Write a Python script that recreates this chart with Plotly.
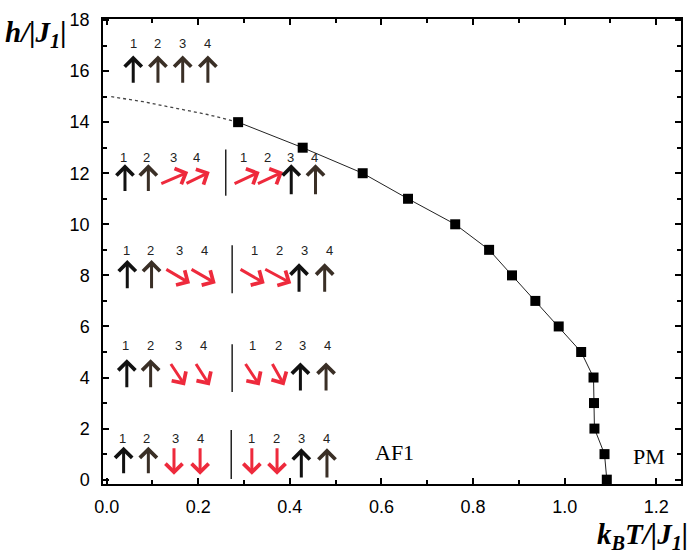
import plotly.graph_objects as go

# ---- data -------------------------------------------------------------
T_crit = [0.287, 0.428, 0.559, 0.658, 0.761, 0.835, 0.885, 0.936, 0.987,
          1.036, 1.063, 1.064, 1.065, 1.087, 1.092]
h_crit = [14, 13, 12, 11, 10, 9, 8, 7, 6, 5, 4, 3, 2, 1, 0]

T_ext = [0.01, 0.08, 0.15, 0.22, 0.287]
h_ext = [15.0, 14.8, 14.55, 14.3, 14.0]

x_ticks = [0.0, 0.2, 0.4, 0.6, 0.8, 1.0, 1.2]
y_ticks = [0, 2, 4, 6, 8, 10, 12, 14, 16, 18]

# spin schematic: (tail_x, tail_y, head_x, head_y, colour)
BLK, BRN, RED = "#111111", "#3a2f26", "#ee2a3c"
spin_arrows = [
    # top row (saturated)
    (0.058, 15.48, 0.058, 16.61, BLK), (0.112, 15.48, 0.112, 16.61, BRN),
    (0.166, 15.48, 0.166, 16.61, BRN), (0.221, 15.48, 0.221, 16.61, BRN),
    # row h~12
    (0.040, 11.25, 0.040, 12.35, BLK), (0.091, 11.25, 0.091, 12.35, BRN),
    (0.116, 11.57, 0.178, 12.05, RED), (0.171, 11.57, 0.225, 12.05, RED),
    (0.276, 11.57, 0.334, 12.05, RED), (0.327, 11.57, 0.385, 12.05, RED),
    (0.403, 11.12, 0.403, 12.35, BLK), (0.456, 11.12, 0.456, 12.35, BRN),
    # row h~8
    (0.045, 7.44, 0.045, 8.60, BLK), (0.098, 7.44, 0.098, 8.60, BRN),
    (0.127, 8.27, 0.182, 7.69, RED), (0.182, 8.27, 0.238, 7.69, RED),
    (0.289, 8.27, 0.345, 7.69, RED), (0.343, 8.27, 0.403, 7.69, RED),
    (0.420, 7.30, 0.420, 8.47, BLK), (0.476, 7.30, 0.476, 8.47, BRN),
    # row h~4
    (0.044, 3.56, 0.044, 4.72, BLK), (0.096, 3.56, 0.096, 4.72, BRN),
    (0.138, 4.59, 0.171, 3.69, RED), (0.193, 4.59, 0.225, 3.69, RED),
    (0.301, 4.59, 0.334, 3.69, RED), (0.360, 4.59, 0.388, 3.69, RED),
    (0.423, 3.43, 0.423, 4.59, BLK), (0.479, 3.43, 0.479, 4.59, BRN),
    # row h~1
    (0.037, 0.19, 0.037, 1.29, BLK), (0.091, 0.19, 0.091, 1.29, BRN),
    (0.147, 1.29, 0.147, 0.19, RED), (0.204, 1.29, 0.204, 0.19, RED),
    (0.317, 1.29, 0.317, 0.19, RED), (0.372, 1.29, 0.372, 0.19, RED),
    (0.425, 0.03, 0.425, 1.23, BLK), (0.481, 0.03, 0.481, 1.23, BRN),
]

# spin site numbers: (x, y, label)
site_labels = [
    (0.058, 17.07, "1"), (0.112, 17.07, "2"), (0.166, 17.07, "3"), (0.221, 17.07, "4"),
    (0.037, 12.61, "1"), (0.087, 12.61, "2"), (0.145, 12.61, "3"), (0.196, 12.61, "4"),
    (0.299, 12.61, "1"), (0.352, 12.61, "2"), (0.402, 12.61, "3"), (0.454, 12.61, "4"),
    (0.044, 8.99, "1"), (0.095, 8.99, "2"), (0.158, 8.99, "3"), (0.213, 8.99, "4"),
    (0.323, 8.99, "1"), (0.377, 8.99, "2"), (0.432, 8.99, "3"), (0.486, 8.99, "4"),
    (0.042, 5.24, "1"), (0.095, 5.24, "2"), (0.156, 5.24, "3"), (0.211, 5.24, "4"),
    (0.319, 5.24, "1"), (0.376, 5.24, "2"), (0.428, 5.24, "3"), (0.483, 5.24, "4"),
    (0.034, 1.62, "1"), (0.087, 1.62, "2"), (0.151, 1.62, "3"), (0.205, 1.62, "4"),
    (0.316, 1.62, "1"), (0.370, 1.62, "2"), (0.425, 1.62, "3"), (0.479, 1.62, "4"),
]

# separators between the two degenerate configurations: (x, y0, y1)
separators = [(0.260, 11.12, 12.93), (0.274, 7.30, 9.18),
              (0.274, 3.43, 5.30), (0.272, 0.03, 1.94)]

phase_labels = [(0.628, 1.05, "AF1"), (1.184, 0.90, "PM")]

# ---- figure -----------------------------------------------------------
fig = go.Figure()
fig.add_trace(go.Scatter(x=T_ext, y=h_ext, mode="lines",
                         line=dict(color="#444444", width=1.3, dash="dot"),
                         showlegend=False, hoverinfo="skip"))
fig.add_trace(go.Scatter(x=T_crit, y=h_crit, mode="lines+markers",
                         line=dict(color="#222222", width=1),
                         marker=dict(symbol="square", size=10, color="black"),
                         showlegend=False))

ann = []
for tx, ty, hx, hy, c in spin_arrows:
    ann.append(dict(x=hx, y=hy, ax=tx, ay=ty, xref="x", yref="y",
                    axref="x", ayref="y", text="", showarrow=True,
                    arrowhead=4, arrowsize=1.1, arrowwidth=3, arrowcolor=c,
                    standoff=0, startstandoff=0))
for x, y, t in site_labels:
    ann.append(dict(x=x, y=y, xref="x", yref="y", text=t, showarrow=False,
                    font=dict(family="Liberation Sans, Arial", size=13, color="#222222")))
for x, y, t in phase_labels:
    ann.append(dict(x=x, y=y, xref="x", yref="y", text=t, showarrow=False,
                    font=dict(family="Liberation Serif, Times New Roman", size=22, color="black")))

# axis titles (placed like the original figure)
ann.append(dict(x=-0.172, y=0.968, xref="paper", yref="paper", xanchor="left", yanchor="middle",
                text="<b><i>h/|J<sub>1</sub>|</i></b>", showarrow=False, borderpad=0,
                font=dict(family="Liberation Serif, Times New Roman", size=29, color="black")))
ann.append(dict(x=0.852, y=-0.112, xref="paper", yref="paper", xanchor="left", yanchor="middle",
                text="<b><i>k<sub>B</sub>T/|J<sub>1</sub>|</i></b>", showarrow=False,
                font=dict(family="Liberation Serif, Times New Roman", size=29, color="black")))

shapes = [dict(type="line", xref="x", yref="y", x0=x, x1=x, y0=y0, y1=y1,
               line=dict(color="#222222", width=1.5)) for x, y0, y1 in separators]

axis_common = dict(showline=True, linecolor="black", linewidth=1.5, mirror="allticks",
                   ticks="inside", ticklen=6, tickwidth=1.5, tickcolor="black",
                   showgrid=False, zeroline=False,
                   tickfont=dict(family="Liberation Sans, Arial", size=18, color="black"))

fig.update_layout(
    width=693, height=555,
    margin=dict(l=103, r=10, t=15, b=71),
    paper_bgcolor="white", plot_bgcolor="white",
    xaxis=dict(range=[-0.008, 1.254], tickvals=x_ticks,
               ticktext=[f"{v:.1f}" for v in x_ticks],
               minor=dict(dtick=0.1, ticks="inside", ticklen=4, tickcolor="black", tickwidth=1.5),
               ticklabelstandoff=6, **axis_common),
    yaxis=dict(range=[-0.17, 18.04], tickvals=y_ticks,
               minor=dict(dtick=1, ticks="inside", ticklen=4, tickcolor="black", tickwidth=1.5),
               ticklabelstandoff=8, **axis_common),
    annotations=ann, shapes=shapes,
)

fig.write_html("out.html")
